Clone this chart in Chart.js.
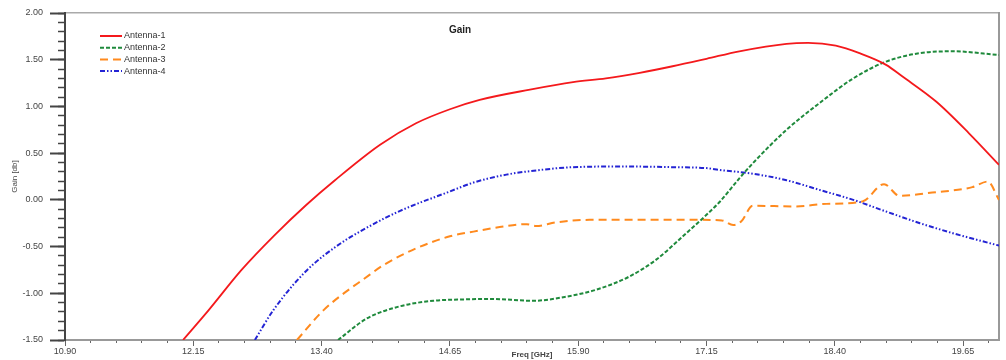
<!DOCTYPE html>
<html lang="en">
<head>
  <meta charset="UTF-8">
  <script src="https://cdn.jsdelivr.net/npm/chart.js"></script>
  <title>Gain</title>
  <style>
    body { margin: 0; background: #fff; }
    .box { width: 1006px; height: 360px; }
  </style>
</head>
<body>
  <div class="box"><canvas id="graficoGain"></canvas></div>

  <script>
    // values (freq in GHz, gain in db)
    const a1Freq = [12.05, 12.30, 12.62, 12.94, 13.25, 13.53, 13.97, 14.32, 14.65, 14.94, 15.43, 15.85, 16.17, 16.50, 16.82, 17.15, 17.47, 17.93, 18.14, 18.41, 18.64, 18.90, 19.06, 19.39, 19.71, 20.00];
    const a1Gain = [-1.50, -1.18, -0.75, -0.38, -0.055, 0.21, 0.59, 0.82, 0.97, 1.07, 1.18, 1.26, 1.30, 1.36, 1.43, 1.51, 1.59, 1.67, 1.68, 1.65, 1.57, 1.445, 1.32, 1.05, 0.71, 0.375];

    const a2Freq = [13.56, 13.84, 14.16, 14.49, 14.80, 15.04, 15.46, 15.79, 16.08, 16.40, 16.66, 16.92, 17.15, 17.28, 17.47, 17.60, 17.93, 18.25, 18.58, 18.90, 19.23, 19.55, 20.00];
    const a2Gain = [-1.50, -1.27, -1.14, -1.08, -1.065, -1.06, -1.08, -1.035, -0.96, -0.82, -0.64, -0.39, -0.16, -0.02, 0.23, 0.39, 0.75, 1.035, 1.30, 1.48, 1.57, 1.59, 1.55];

    const a3Freq = [13.16, 13.42, 13.87, 14.00, 14.32, 14.65, 14.88, 15.20, 15.40, 15.49, 15.69, 16.01, 16.50, 17.08, 17.30, 17.41, 17.49, 17.60, 18.02, 18.32, 18.67, 18.88, 19.03, 19.35, 19.74, 19.89, 20.00];
    const a3Gain = [-1.50, -1.18, -0.80, -0.70, -0.52, -0.39, -0.34, -0.28, -0.26, -0.28, -0.24, -0.214, -0.214, -0.214, -0.22, -0.27, -0.23, -0.064, -0.07, -0.043, -0.018, 0.168, 0.043, 0.078, 0.136, 0.196, 0.0];

    const a4Freq = [12.75, 12.93, 13.26, 13.58, 13.87, 14.16, 14.65, 14.88, 15.20, 15.53, 15.85, 16.34, 16.82, 17.15, 17.28, 17.60, 17.93, 18.25, 18.58, 18.90, 19.23, 19.55, 20.00];
    const a4Gain = [-1.50, -1.18, -0.75, -0.47, -0.28, -0.12, 0.09, 0.185, 0.27, 0.32, 0.35, 0.357, 0.35, 0.34, 0.32, 0.28, 0.21, 0.107, 0.0, -0.125, -0.25, -0.357, -0.49];

    const freqTicks = [10.90, 12.15, 13.40, 14.65, 15.90, 17.15, 18.40, 19.65];
    const gainTicks = [-1.50, -1.00, -0.50, 0.00, 0.50, 1.00, 1.50, 2.00];

    const fMin = 10.9, fMax = 20.0;
    const gMin = -1.5, gMax = 2.0;

    function pontos(xs, ys) {
      const out = [];
      for (let i = 0; i < xs.length; i++) out.push({ x: xs[i], y: ys[i] });
      return out;
    }

    function passos(a, b, step) {
      const out = [];
      const n = Math.round((b - a) / step);
      for (let i = 0; i <= n; i++) out.push({ value: +(a + i * step).toFixed(4) });
      return out;
    }

    const fonte = { family: "'Liberation Sans', Arial, sans-serif", size: 9 };

    // title + legend drawn inside the plot area
    const extras = {
      id: 'extras',
      afterDraw(chart) {
        const ctx = chart.ctx;
        const area = chart.chartArea;
        ctx.save();
        ctx.fillStyle = '#222';
        ctx.font = "bold 10px 'Liberation Sans', Arial, sans-serif";
        ctx.textAlign = 'center';
        ctx.textBaseline = 'middle';
        ctx.fillText('Gain', area.left + (area.right - area.left) * 0.423, area.top + 17);

        ctx.font = "9px 'Liberation Sans', Arial, sans-serif";
        ctx.textAlign = 'left';
        chart.data.datasets.forEach((ds, i) => {
          const y = area.top + 23 + i * 11.7;
          const x = area.left + 35;
          ctx.strokeStyle = ds.borderColor;
          ctx.lineWidth = 2;
          ctx.setLineDash(ds.borderDash || []);
          ctx.beginPath();
          ctx.moveTo(x, y);
          ctx.lineTo(x + 22, y);
          ctx.stroke();
          ctx.setLineDash([]);
          ctx.fillStyle = '#333';
          ctx.fillText(ds.label, x + 24, y);
        });
        ctx.restore();
      }
    };

    const ctx = document.getElementById('graficoGain').getContext('2d');
    new Chart(ctx, {
      type: 'line',
      data: {
        datasets: [
          { label: 'Antenna-1', data: pontos(a1Freq, a1Gain), borderColor: '#f4191c', borderWidth: 1.8, borderDash: [] },
          { label: 'Antenna-2', data: pontos(a2Freq, a2Gain), borderColor: '#1f8a3c', borderWidth: 2, borderDash: [4, 2] },
          { label: 'Antenna-3', data: pontos(a3Freq, a3Gain), borderColor: '#ff8a1e', borderWidth: 2, borderDash: [8, 5] },
          { label: 'Antenna-4', data: pontos(a4Freq, a4Gain), borderColor: '#2424d4', borderWidth: 2, borderDash: [5, 2, 1.5, 2, 1.5, 2] }
        ]
      },
      options: {
        responsive: true,
        maintainAspectRatio: false,
        animation: false,
        layout: { padding: { top: 13, right: 7, left: 0, bottom: 0 } },
        elements: {
          point: { radius: 0 },
          line: { fill: false, cubicInterpolationMode: 'monotone' }
        },
        plugins: {
          legend: { display: false },
          title: { display: false },
          tooltip: { enabled: false }
        },
        scales: {
          x: {
            type: 'linear', position: 'bottom', weight: 1,
            min: fMin, max: fMax,
            afterBuildTicks: s => { s.ticks = freqTicks.map(v => ({ value: v })); },
            afterFit: s => { s.height = 20; },
            ticks: { callback: v => v.toFixed(2), font: fonte, color: '#444', padding: 0, maxRotation: 0, autoSkip: false },
            grid: { drawOnChartArea: false, tickLength: 6, tickColor: '#666' },
            border: { color: '#999', width: 2 },
            title: { display: true, text: 'Freq [GHz]', font: { family: fonte.family, size: 8, weight: 'bold' }, color: '#444', padding: 0 }
          },
          xMinor: {
            type: 'linear', position: 'bottom', weight: 0,
            min: fMin, max: fMax,
            afterBuildTicks: s => { s.ticks = passos(fMin, fMax, 0.25); },
            afterFit: s => { s.height = 0; },
            ticks: { display: false },
            grid: { drawOnChartArea: false, tickLength: 3, tickColor: '#666' },
            border: { display: false }
          },
          xTop: {
            type: 'linear', position: 'top',
            afterFit: s => { s.height = 0; },
            ticks: { display: false },
            grid: { drawOnChartArea: false, drawTicks: false },
            border: { color: '#aaa', width: 1.5 }
          },
          y: {
            type: 'linear', position: 'left', weight: 1,
            min: gMin, max: gMax,
            afterBuildTicks: s => { s.ticks = gainTicks.map(v => ({ value: v })); },
            afterFit: s => { s.width = 65; },
            ticks: { callback: v => v.toFixed(2), font: fonte, color: '#444', padding: 7, autoSkip: false },
            grid: { drawOnChartArea: false, tickLength: 15, tickColor: '#444', tickWidth: 2 },
            border: { color: '#444', width: 2 },
            title: { display: true, text: 'Gain [db]', font: { family: fonte.family, size: 8 }, color: '#444', padding: { top: 10, bottom: 0 } }
          },
          yMinor: {
            type: 'linear', position: 'left', weight: 0,
            min: gMin, max: gMax,
            afterBuildTicks: s => { s.ticks = passos(gMin, gMax, 0.1); },
            afterFit: s => { s.width = 0; },
            ticks: { display: false },
            grid: { drawOnChartArea: false, tickLength: 7, tickColor: '#444', tickWidth: 1.5 },
            border: { display: false }
          },
          yRight: {
            type: 'linear', position: 'right',
            afterFit: s => { s.width = 0; },
            ticks: { display: false },
            grid: { drawOnChartArea: false, drawTicks: false },
            border: { color: '#999', width: 2 }
          }
        }
      },
      plugins: [extras]
    });
  </script>
</body>
</html>
